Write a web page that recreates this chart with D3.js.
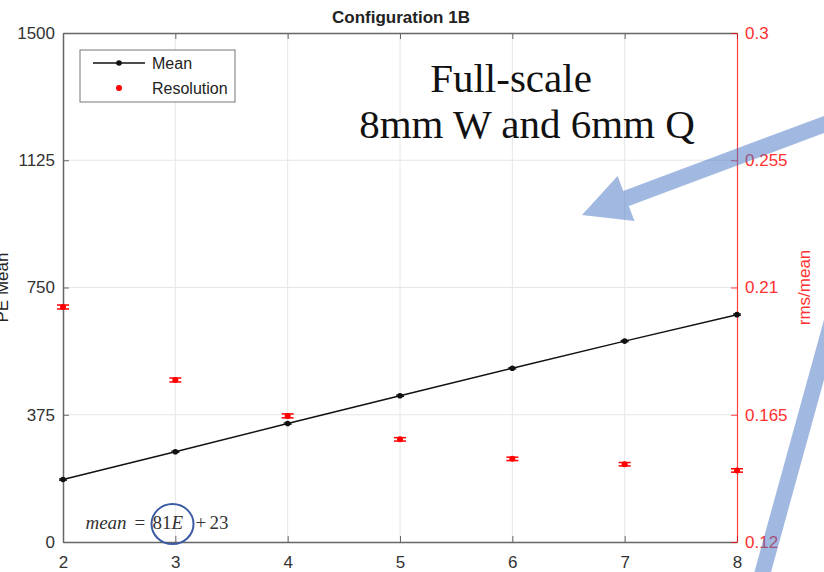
<!DOCTYPE html>
<html>
<head>
<meta charset="utf-8">
<script src="https://cdn.jsdelivr.net/npm/d3@7/dist/d3.min.js"></script>
<style>
  html, body { margin: 0; padding: 0; background: #fff; overflow: hidden; }
  svg { display: block; }
</style>
</head>
<body>
<div id="chart"></div>
<script>
// Data
const energies   = [2, 3, 4, 5, 6, 7, 8];
const peMean     = [184, 266, 349, 431, 512, 592, 670];
const peMeanErr  = [2, 2, 2, 2, 2, 2, 2];
const resolution = [0.2031, 0.1773, 0.1646, 0.1563, 0.1494, 0.1475, 0.1453];
const resErr     = [0.0007, 0.0007, 0.0007, 0.0006, 0.0006, 0.0006, 0.0006];
const xTicks     = [2, 3, 4, 5, 6, 7, 8];
const leftTicks  = [0, 375, 750, 1125, 1500];
const rightTicks = [0.12, 0.165, 0.21, 0.255, 0.3];

// Layout
const width  = 824;
const height = 572;
const plot   = { left: 63, right: 737, top: 33, bottom: 542 };
const sans   = 'Liberation Sans, Arial, Helvetica, sans-serif';
const serif  = 'Liberation Serif, Times New Roman, serif';
const axisGray = '#666';
const red      = '#ff0000';

const x  = d3.scaleLinear().domain([2, 8]).range([plot.left, plot.right]);
const yL = d3.scaleLinear().domain([0, 1500]).range([plot.bottom, plot.top]);
const yR = d3.scaleLinear().domain([0.12, 0.3]).range([plot.bottom, plot.top]);

const svg = d3.select('#chart')
  .append('svg')
    .attr('width', width)
    .attr('height', height);

// Grid
svg.append('g')
  .selectAll('line')
  .data(xTicks.slice(1, -1))
  .join('line')
    .attr('x1', d => x(d)).attr('x2', d => x(d))
    .attr('y1', plot.top).attr('y2', plot.bottom)
    .attr('stroke', '#e6e6e6').attr('stroke-width', 1);

svg.append('g')
  .selectAll('line')
  .data(leftTicks.slice(1, -1))
  .join('line')
    .attr('x1', plot.left).attr('x2', plot.right)
    .attr('y1', d => yL(d)).attr('y2', d => yL(d))
    .attr('stroke', '#e6e6e6').attr('stroke-width', 1);

// Axes (MATLAB style: ticks point inward)
const tickLen = 6;

const xAxis = svg.append('g')
  .attr('transform', `translate(0,${plot.bottom})`)
  .call(d3.axisBottom(x).tickValues(xTicks).tickFormat(d3.format('d'))
    .tickSizeInner(-tickLen).tickSizeOuter(0).tickPadding(14));

const xTop = svg.append('g')
  .attr('transform', `translate(0,${plot.top})`)
  .call(d3.axisTop(x).tickValues(xTicks).tickSizeInner(-tickLen).tickSizeOuter(0).tickFormat(''));

const yAxisL = svg.append('g')
  .attr('transform', `translate(${plot.left},0)`)
  .call(d3.axisLeft(yL).tickValues(leftTicks).tickFormat(d3.format('d'))
    .tickSizeInner(-tickLen).tickSizeOuter(0).tickPadding(8));

const yAxisR = svg.append('g')
  .attr('transform', `translate(${plot.right},0)`)
  .call(d3.axisRight(yR).tickValues(rightTicks).tickSizeInner(-tickLen).tickSizeOuter(0).tickPadding(8)
    .tickFormat(d => String(+d.toFixed(3))));

[xAxis, xTop, yAxisL].forEach(g => {
  g.select('.domain').attr('stroke', axisGray).attr('stroke-width', 1.5);
  g.selectAll('.tick line').attr('stroke', axisGray).attr('stroke-width', 1);
  g.selectAll('text').attr('fill', '#333').attr('font-family', sans).attr('font-size', 17);
});
yAxisR.select('.domain').attr('stroke', red).attr('stroke-width', 1.2).attr('stroke-opacity', 0.75);
yAxisR.selectAll('.tick line').attr('stroke', red).attr('stroke-opacity', 0.75);
yAxisR.selectAll('text').attr('fill', '#ff3030').attr('font-family', sans).attr('font-size', 17);
xAxis.selectAll('text').attr('dy', '0.71em');

// Axis labels and title
svg.append('text')
  .attr('transform', `translate(8,${(plot.top + plot.bottom) / 2}) rotate(-90)`)
  .attr('text-anchor', 'middle')
  .attr('font-family', sans).attr('font-size', 17)
  .attr('fill', '#222')
  .text('PE Mean');

svg.append('text')
  .attr('transform', `translate(810,${(plot.top + plot.bottom) / 2}) rotate(-90)`)
  .attr('text-anchor', 'middle')
  .attr('font-family', sans).attr('font-size', 17)
  .attr('fill', '#ff3030')
  .text('rms/mean');

svg.append('text')
  .attr('x', (plot.left + plot.right) / 2 + 1)
  .attr('y', 23)
  .attr('text-anchor', 'middle')
  .attr('font-family', sans).attr('font-size', 17).attr('font-weight', 'bold')
  .attr('fill', '#222')
  .text('Configuration 1B');

// Mean series
const meanData = energies.map((e, i) => ({ e, v: peMean[i], err: peMeanErr[i] }));
const resData  = energies.map((e, i) => ({ e, v: resolution[i], err: resErr[i] }));

svg.append('path')
  .datum(meanData)
  .attr('fill', 'none')
  .attr('stroke', '#111')
  .attr('stroke-width', 1.5)
  .attr('d', d3.line().x(d => x(d.e)).y(d => yL(d.v)));

const meanBars = svg.append('g').attr('stroke', '#111').attr('stroke-width', 1.2);
meanData.forEach(d => {
  meanBars.append('line')
    .attr('x1', x(d.e)).attr('x2', x(d.e))
    .attr('y1', yL(d.v - d.err)).attr('y2', yL(d.v + d.err));
  [d.v - d.err, d.v + d.err].forEach(v => meanBars.append('line')
    .attr('x1', x(d.e) - 4).attr('x2', x(d.e) + 4)
    .attr('y1', yL(v)).attr('y2', yL(v)));
});

svg.append('g')
  .selectAll('circle')
  .data(meanData)
  .join('circle')
    .attr('cx', d => x(d.e)).attr('cy', d => yL(d.v))
    .attr('r', 2.8).attr('fill', '#111');

// Resolution series
const resBars = svg.append('g').attr('stroke', red).attr('stroke-width', 1.5);
resData.forEach(d => {
  resBars.append('line')
    .attr('x1', x(d.e)).attr('x2', x(d.e))
    .attr('y1', yR(d.v - d.err)).attr('y2', yR(d.v + d.err));
  [d.v - d.err, d.v + d.err].forEach(v => resBars.append('line')
    .attr('x1', x(d.e) - 6).attr('x2', x(d.e) + 6)
    .attr('y1', yR(v)).attr('y2', yR(v)));
});

svg.append('g')
  .selectAll('circle')
  .data(resData)
  .join('circle')
    .attr('cx', d => x(d.e)).attr('cy', d => yR(d.v))
    .attr('r', 3).attr('fill', red);

// Legend
const legend = svg.append('g').attr('transform', 'translate(80,50)');
legend.append('rect')
  .attr('width', 155).attr('height', 52)
  .attr('fill', '#fff').attr('stroke', '#777').attr('stroke-width', 1);
legend.append('line')
  .attr('x1', 13).attr('x2', 65).attr('y1', 13).attr('y2', 13)
  .attr('stroke', '#111').attr('stroke-width', 1.5);
legend.append('circle').attr('cx', 39).attr('cy', 13).attr('r', 2.8).attr('fill', '#111');
legend.append('circle').attr('cx', 39).attr('cy', 38).attr('r', 3).attr('fill', red);
legend.append('text')
  .attr('x', 72).attr('y', 19)
  .attr('font-family', sans).attr('font-size', 16).attr('fill', '#222')
  .text('Mean');
legend.append('text')
  .attr('x', 72).attr('y', 44)
  .attr('font-family', sans).attr('font-size', 16).attr('fill', '#222')
  .text('Resolution');

// Fit equation, laid out with TeX-like spacing
const eqX = x(2.2), eqY = yL(38);
const eq = svg.append('text')
  .attr('y', eqY)
  .attr('font-family', serif).attr('font-size', 19).attr('fill', '#333');
[
  { t: 'mean', dx: 0,   it: true },
  { t: '=',    dx: 49,  it: false },
  { t: '81',   dx: 67,  it: false },
  { t: 'E',    dx: 86,  it: true },
  { t: '+',    dx: 110, it: false },
  { t: '23',   dx: 124, it: false }
].forEach(p => eq.append('tspan')
  .attr('x', eqX + p.dx)
  .attr('font-style', p.it ? 'italic' : 'normal')
  .text(p.t));

svg.append('ellipse')
  .attr('cx', x(2.975)).attr('cy', yL(53))
  .attr('rx', 21).attr('ry', 20)
  .attr('fill', 'none').attr('stroke', '#3b5ba5').attr('stroke-width', 2);

// Annotation text
svg.append('text')
  .attr('x', 511).attr('y', 92)
  .attr('text-anchor', 'middle')
  .attr('font-family', serif).attr('font-size', 41).attr('fill', '#111')
  .text('Full-scale');
svg.append('text')
  .attr('x', 527).attr('y', 138)
  .attr('text-anchor', 'middle')
  .attr('font-family', serif).attr('font-size', 41).attr('fill', '#111')
  .text('8mm W and 6mm Q');

// Blue arrows
function arrowPath(x0, y0, x1, y1, shaft, headLen, headW) {
  const dx = x1 - x0, dy = y1 - y0;
  const len = Math.hypot(dx, dy);
  const ux = dx / len, uy = dy / len;
  const nx = -uy, ny = ux;
  const bx = x1 - ux * headLen, by = y1 - uy * headLen;
  const pts = [
    [x0 + nx * shaft / 2, y0 + ny * shaft / 2],
    [bx + nx * shaft / 2, by + ny * shaft / 2],
    [bx + nx * headW / 2, by + ny * headW / 2],
    [x1, y1],
    [bx - nx * headW / 2, by - ny * headW / 2],
    [bx - nx * shaft / 2, by - ny * shaft / 2],
    [x0 - nx * shaft / 2, y0 - ny * shaft / 2]
  ];
  return 'M' + pts.map(p => p.join(',')).join('L') + 'Z';
}

svg.append('path')
  .attr('d', arrowPath(900, 96, 582, 215, 16, 47, 48))
  .attr('fill', '#4472c4').attr('fill-opacity', 0.5);

svg.append('path')
  .attr('d', arrowPath(755, 600, 846, 270, 16, 0, 16))
  .attr('fill', '#4472c4').attr('fill-opacity', 0.5);
</script>
</body>
</html>
